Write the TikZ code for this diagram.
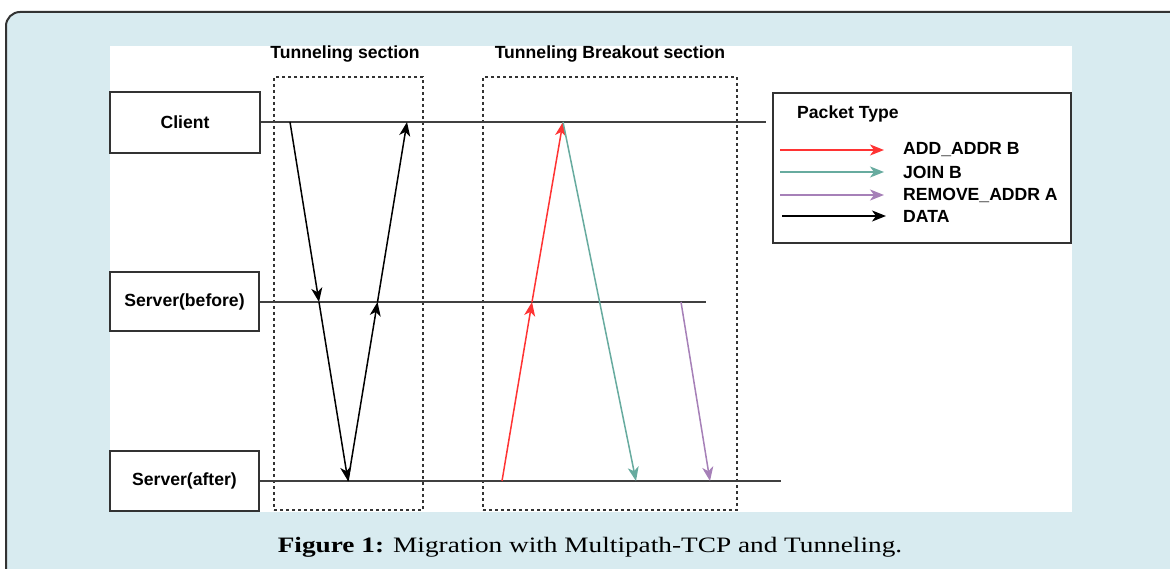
\documentclass[tikz,border=0pt]{standalone}
\usepackage{fontspec}
\setmainfont{Liberation Serif}
\newfontfamily\hv{Liberation Sans}
\newfontfamily\capfont[FakeStretch=1.24]{Liberation Serif}
\usetikzlibrary{arrows.meta}
\definecolor{bgblue}{HTML}{D8EBF0}
\definecolor{frameC}{HTML}{333333}
\definecolor{addC}{HTML}{FF3333}
\definecolor{joinC}{HTML}{67AB9F}
\definecolor{remC}{HTML}{A680B8}
\tikzset{
  actor/.style={draw=frameC, line width=1.6pt, fill=white, minimum width=149pt, minimum height=60pt, inner sep=0pt, font=\hv\fontsize{17.6}{20}\selectfont\bfseries},
  lifeline/.style={draw=black!75, line width=1.7pt},
  section/.style={draw=black!80, line width=1.5pt, dash pattern=on 3pt off 3pt, inner sep=0pt},
  sectitle/.style={font=\hv\fontsize{17.6}{20}\selectfont\bfseries, inner sep=0pt},
  msg/.style={line width=1.5pt, -{Stealth[length=14pt,width=11pt,inset=4pt]}},
  legtext/.style={font=\hv\fontsize{17.6}{20}\selectfont\bfseries, anchor=west, inner sep=0pt},
}
\begin{document}
\begin{tikzpicture}[x=1pt,y=-1pt]
\useasboundingbox (0,0) rectangle (1170,569);
\fill[white] (0,0) rectangle (1170,569);
% outer panel
\draw[frameC, line width=2pt, fill=bgblue, rounded corners=14pt] (6,12) rectangle (1200,600);
% white figure area
\fill[white] (110,46) rectangle (1072,512);

% sections
\node[section, minimum width=149pt, minimum height=433pt] (tun) at (348.5,293.5) {};
\node[section, minimum width=254pt, minimum height=433pt] (brk) at (610,293.5) {};
\node[sectitle] (tunT) at (345,54) {Tunneling section};
\node[sectitle] (brkT) at (610,54) {Tunneling Breakout section};

% actors
\node[actor, minimum width=150pt, minimum height=61pt] (client) at (185,122.5) {Client};
\node[actor, minimum height=59pt] (sb) at (184.5,301.5) {Server(before)};
\node[actor] (sa) at (184.5,481) {Server(after)};

% lifelines
\coordinate (cEnd) at (766,122);
\coordinate (bEnd) at (706,302);
\coordinate (aEnd) at (781,481);
\draw[lifeline] (client.east |- cEnd) -- (cEnd);
\draw[lifeline] (sb.east |- bEnd) -- (bEnd);
\draw[lifeline] (sa.east |- aEnd) -- (aEnd);

% data arrows
\coordinate (d1s) at (290,122);
\coordinate (d1m) at (319,302);
\coordinate (d1e) at (348,481);
\coordinate (d2m) at (377.5,302);
\coordinate (d2e) at (407,122);
\draw[msg, black] (d1s) -- (d1m);
\draw[msg, black] (d1m) -- (d1e);
\draw[msg, black] (d1e) -- (d2m);
\draw[msg, black] (d2m) -- (d2e);

% ADD_ADDR
\coordinate (r1s) at (502,481);
\coordinate (r1m) at (532,302);
\coordinate (r1e) at (563,122);
\draw[msg, addC] (r1s) -- (r1m);
\draw[msg, addC] (r1m) -- (r1e);
% JOIN
\coordinate (j1e) at (636,481);
\draw[msg, joinC] (r1e) -- (j1e);
% REMOVE_ADDR
\coordinate (p1s) at (681,302);
\coordinate (p1e) at (710,481);
\draw[msg, remC] (p1s) -- (p1e);

% legend
\node[draw=frameC, line width=1.6pt, fill=white, minimum width=298pt, minimum height=150pt, inner sep=0pt] (leg) at (922,168) {};
\node[legtext] (legT) at (797,114) {Packet Type};
\coordinate (l1a) at (780,150); \coordinate (l1b) at (884,150);
\coordinate (l2a) at (780,172); \coordinate (l2b) at (884,172);
\coordinate (l3a) at (780,195); \coordinate (l3b) at (884,195);
\coordinate (l4a) at (782,216); \coordinate (l4b) at (886,216);
\draw[msg, addC] (l1a) -- (l1b);
\draw[msg, joinC] (l2a) -- (l2b);
\draw[msg, remC] (l3a) -- (l3b);
\draw[msg, black] (l4a) -- (l4b);
\node[legtext] (t1) at (903,150) {ADD\_ADDR B};
\node[legtext] (t2) at (903,172) {JOIN B};
\node[legtext] (t3) at (903,195) {REMOVE\_ADDR A};
\node[legtext] (t4) at (903,216) {DATA};

% caption
\node[anchor=base, inner sep=0pt, font=\capfont\fontsize{22}{26}\selectfont] (cap) at (590,552) {\textbf{Figure 1:} Migration with Multipath-TCP and Tunneling.};
\end{tikzpicture}
\end{document}
